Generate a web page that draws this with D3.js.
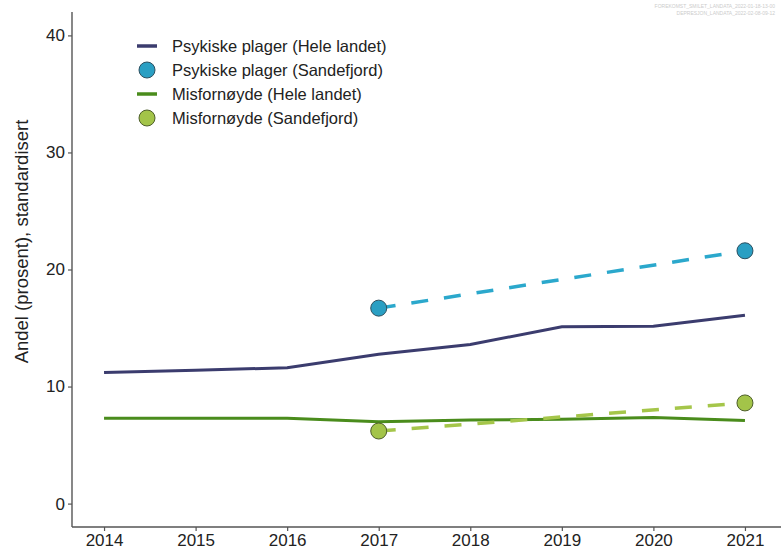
<!DOCTYPE html>
<html>
<head>
<meta charset="utf-8">
<script src="https://cdn.jsdelivr.net/npm/d3@7"></script>
<style>
  body { margin: 0; background: #fff; }
  text { font-family: "Liberation Sans", Arial, sans-serif; }
</style>
</head>
<body>
<div id="chart"></div>
<script>
'use strict';

// data
const years = [2014, 2015, 2016, 2017, 2018, 2019, 2020, 2021];
const psykiskeLandet = [11.2, 11.4, 11.6, 12.75, 13.6, 15.1, 15.15, 16.1];
const misfornoydeLandet = [7.3, 7.3, 7.3, 7.0, 7.15, 7.2, 7.35, 7.1];
const sandefjordYears = [2017, 2021];
const psykiskeSandefjord = [16.7, 21.6];
const misfornoydeSandefjord = [6.2, 8.6];
const yTicks = [0, 10, 20, 30, 40];
const legendLabels = [
  "Psykiske plager (Hele landet)",
  "Psykiske plager (Sandefjord)",
  "Misfornøyde (Hele landet)",
  "Misfornøyde (Sandefjord)"
];

const W = 781, H = 556;
const margin = {top: 12, right: 4, bottom: 29, left: 72};

const svg = d3.select("#chart").append("svg")
  .attr("width", W).attr("height", H);

const x = d3.scaleLinear()
  .domain([2013.65, 2021.35])
  .range([margin.left, W - margin.right]);

const y = d3.scaleLinear()
  .domain([-2, 42])
  .range([H - margin.bottom, margin.top]);

// axes
const xAxis = svg.append("g")
  .attr("transform", `translate(0,${H - margin.bottom})`)
  .call(d3.axisBottom(x).tickValues(years).tickFormat(d3.format("d")).tickSize(4).tickPadding(3));

const yAxis = svg.append("g")
  .attr("transform", `translate(${margin.left},0)`)
  .call(d3.axisLeft(y).tickValues(yTicks).tickSize(4).tickPadding(3));

[xAxis, yAxis].forEach(function(g) {
  g.select(".domain").attr("stroke", "#555").attr("stroke-width", 1.4);
  g.selectAll(".tick line").attr("stroke", "#555").attr("stroke-width", 1.2);
  g.selectAll(".tick text").attr("fill", "#222").style("font-size", "17px");
});
xAxis.select(".domain").attr("d", `M${margin.left},0H${W}`);
yAxis.select(".domain").attr("d", `M0,${margin.top}V${H - margin.bottom}`);

svg.append("text")
  .attr("transform", `translate(28,${(margin.top + H - margin.bottom) / 2 - 28}) rotate(-90)`)
  .attr("text-anchor", "middle")
  .attr("fill", "#222")
  .style("font-size", "18.5px")
  .text("Andel (prosent), standardisert");

const line = d3.line()
  .x(d => x(d[0]))
  .y(d => y(d[1]));

const cNavy = "#3b3c6e", cTeal = "#2ba8cc", cGreen = "#4a8c1c", cLight = "#a5c64a";

function series(xs, vs) { return xs.map((yr, i) => [yr, vs[i]]); }

// lines
svg.append("path").datum(series(years, psykiskeLandet))
  .attr("d", line).attr("fill", "none").attr("stroke", cNavy).attr("stroke-width", 3);
svg.append("path").datum(series(years, misfornoydeLandet))
  .attr("d", line).attr("fill", "none").attr("stroke", cGreen).attr("stroke-width", 3);
svg.append("path").datum(series(sandefjordYears, psykiskeSandefjord))
  .attr("d", line).attr("fill", "none").attr("stroke", cTeal).attr("stroke-width", 3.5)
  .attr("stroke-dasharray", "17,16");
svg.append("path").datum(series(sandefjordYears, misfornoydeSandefjord))
  .attr("d", line).attr("fill", "none").attr("stroke", cLight).attr("stroke-width", 3.5)
  .attr("stroke-dasharray", "17,16");

// points
svg.selectAll(".pt1").data(series(sandefjordYears, psykiskeSandefjord)).enter()
  .append("circle").attr("cx", d => x(d[0])).attr("cy", d => y(d[1])).attr("r", 8)
  .attr("fill", "#2a9fc3").attr("stroke", "#2d5060").attr("stroke-width", 1);
svg.selectAll(".pt2").data(series(sandefjordYears, misfornoydeSandefjord)).enter()
  .append("circle").attr("cx", d => x(d[0])).attr("cy", d => y(d[1])).attr("r", 8)
  .attr("fill", "#a3c449").attr("stroke", "#4d5e2a").attr("stroke-width", 1);

// legend
const legend = svg.append("g").attr("transform", "translate(147,46)");
const keys = [
  {type: "line", color: cNavy},
  {type: "dot", color: "#2a9fc3", stroke: "#2d5060"},
  {type: "line", color: cGreen},
  {type: "dot", color: "#a3c449", stroke: "#4d5e2a"}
];
keys.forEach(function(k, i) {
  const g = legend.append("g").attr("transform", `translate(0,${i * 24})`);
  if (k.type === "line") {
    g.append("line").attr("x1", -10).attr("x2", 10).attr("stroke", k.color).attr("stroke-width", 3.5);
  } else {
    g.append("circle").attr("r", 8).attr("fill", k.color).attr("stroke", k.stroke).attr("stroke-width", 1);
  }
  g.append("text").attr("x", 25).attr("dy", "0.36em")
    .attr("fill", "#222").style("font-size", "16.5px")
    .text(legendLabels[i]);
});

// source stamp
svg.append("text").attr("x", W - 6).attr("y", 8).attr("text-anchor", "end")
  .attr("fill", "#ccc").style("font-size", "5px")
  .text("FOREKOMST_SMILET_LANDATA_2022-01-18-13-00");
svg.append("text").attr("x", W - 6).attr("y", 15).attr("text-anchor", "end")
  .attr("fill", "#ccc").style("font-size", "5px")
  .text("DEPRESJON_LANDATA_2022-02-08-09-12");
</script>
</body>
</html>
